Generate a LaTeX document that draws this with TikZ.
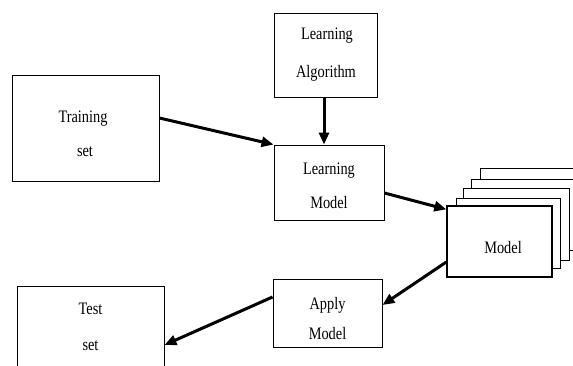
\documentclass[tikz,border=0pt]{standalone}
\usepackage{fontspec}
\setmainfont[FakeStretch=0.82]{Liberation Serif}
\usetikzlibrary{arrows.meta}
\tikzset{
  box/.style={draw=black, line width=0.9pt, fill=white, inner sep=0pt},
  lbl/.style={font=\fontsize{17.5}{20}\selectfont, inner sep=0pt, anchor=base},
  flow/.style={line width=3pt, -{Triangle[length=12pt,width=10pt]}},
}
\begin{document}
\begin{tikzpicture}[x=1pt,y=-1pt]
\useasboundingbox (0,0) rectangle (573,365);
\clip (0,0) rectangle (573,365);
% boxes
\node[box, minimum width=103pt, minimum height=84pt] (la) at (325.5,55) {};
\node[box, minimum width=147pt, minimum height=106pt] (train) at (85.5,128) {};
\node[box, minimum width=110pt, minimum height=75pt] (lm) at (329,182.5) {};
\node[box, minimum width=109pt, minimum height=68pt] (apply) at (327.5,313) {};
\node[box, minimum width=147pt, minimum height=110pt] (test) at (90.5,341) {};
% model stack
\node[box, minimum width=130pt, minimum height=74pt] (m5) at (545,205) {};
\node[box, minimum width=130pt, minimum height=71pt] (m4) at (536,214.5) {};
\node[box, minimum width=106pt, minimum height=72pt] (m3) at (516,224) {};
\node[box, minimum width=104pt, minimum height=70pt] (m2) at (508,233) {};
\node[box, line width=1.3pt, minimum width=105pt, minimum height=71pt] (model) at (499.5,241.5) {};
% texts
\node[lbl] (t1) at (327,39) {Learning};
\node[lbl] (t2) at (326,77) {Algorithm};
\node[lbl] (t3) at (83,122) {Training};
\node[lbl] (t4) at (85,156) {set};
\node[lbl] (t5) at (329,174) {Learning};
\node[lbl] (t6) at (329,208) {Model};
\node[lbl] (t7) at (503,253) {Model};
\node[lbl] (t8) at (327.5,309) {Apply};
\node[lbl] (t9) at (327.5,339) {Model};
\node[lbl] (t10) at (90.5,314) {Test};
\node[lbl] (t11) at (90.5,350) {set};
% connectors
\draw[flow] ([yshift=10pt]train.east) -- (lm.north west);
\draw[flow] ([xshift=-1.5pt]la.south) -- ([xshift=-1.5pt]la.south |- lm.north);
\draw[flow] ([yshift=-10.5pt]lm.east) -- ([yshift=-4pt]model.north west);
\draw[flow] ([yshift=-20.5pt]model.west) -- ([yshift=8pt]apply.east);
\draw[flow] ([yshift=16pt]apply.west) -- ([yshift=-4pt]test.east);
\end{tikzpicture}
\end{document}
